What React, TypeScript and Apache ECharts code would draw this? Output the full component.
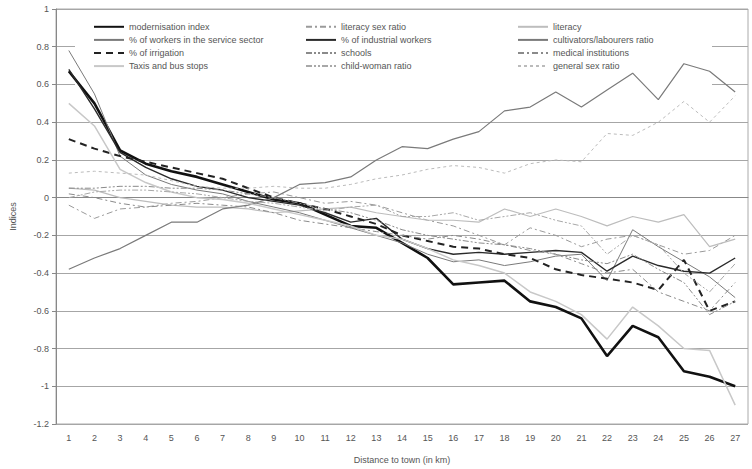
import React, { useEffect, useRef } from "react";
import * as echarts from "echarts";

const categories = Array.from({ length: 27 }, (_, i) => String(i + 1));

const modernisation = [0.67, 0.5, 0.25, 0.18, 0.14, 0.11, 0.07, 0.03, -0.01, -0.03, -0.09, -0.15, -0.16, -0.24, -0.32, -0.46, -0.45, -0.44, -0.55, -0.58, -0.64, -0.84, -0.68, -0.74, -0.92, -0.95, -1.0];
const literacySexRatio = [-0.04, -0.11, -0.06, -0.05, -0.03, -0.02, 0.0, 0.02, 0.03, 0.0, -0.03, -0.02, -0.04, -0.08, -0.12, -0.15, -0.2, -0.25, -0.16, -0.2, -0.26, -0.22, -0.2, -0.25, -0.3, -0.28, -0.2];
const literacy = [0.05, 0.04, 0.0, -0.02, -0.04, -0.05, -0.05, -0.06, -0.08, -0.07, -0.06, -0.05, -0.08, -0.1, -0.12, -0.12, -0.13, -0.06, -0.1, -0.06, -0.1, -0.15, -0.1, -0.13, -0.09, -0.26, -0.22];
const serviceWorkers = [0.78, 0.55, 0.22, 0.12, 0.07, 0.04, 0.02, -0.02, -0.05, -0.08, -0.12, -0.16, -0.2, -0.24, -0.3, -0.34, -0.33, -0.36, -0.34, -0.31, -0.3, -0.44, -0.17, -0.26, -0.34, -0.42, -0.53];
const industrialWorkers = [0.68, 0.47, 0.24, 0.16, 0.1, 0.06, 0.04, 0.0, -0.02, -0.04, -0.08, -0.13, -0.11, -0.22, -0.27, -0.3, -0.29, -0.3, -0.29, -0.28, -0.29, -0.39, -0.31, -0.36, -0.39, -0.4, -0.32];
const cultivatorsRatio = [-0.38, -0.32, -0.27, -0.2, -0.13, -0.13, -0.06, -0.04, 0.0, 0.07, 0.08, 0.11, 0.2, 0.27, 0.26, 0.31, 0.35, 0.46, 0.48, 0.56, 0.48, 0.57, 0.66, 0.52, 0.71, 0.67, 0.56];
const irrigation = [0.31, 0.26, 0.22, 0.19, 0.16, 0.13, 0.1, 0.05, 0.0, -0.03, -0.06, -0.1, -0.14, -0.2, -0.23, -0.26, -0.27, -0.3, -0.32, -0.38, -0.41, -0.43, -0.45, -0.49, -0.33, -0.6, -0.55];
const schools = [0.05, 0.05, 0.06, 0.06, 0.05, 0.05, 0.04, 0.02, 0.0, -0.03, -0.06, -0.08, -0.12, -0.17, -0.2, -0.22, -0.24, -0.25, -0.27, -0.3, -0.33, -0.35, -0.3, -0.38, -0.45, -0.62, -0.55];
const medical = [0.02, 0.0, -0.03, -0.05, -0.04, -0.03, -0.04, -0.05, -0.08, -0.12, -0.14, -0.16, -0.18, -0.2, -0.22, -0.2, -0.22, -0.25, -0.28, -0.3, -0.35, -0.4, -0.38, -0.5, -0.55, -0.6, -0.45];
const taxis = [0.5, 0.38, 0.15, 0.08, 0.03, 0.0, -0.01, -0.03, -0.06, -0.09, -0.12, -0.15, -0.2, -0.22, -0.27, -0.33, -0.36, -0.4, -0.5, -0.55, -0.62, -0.75, -0.58, -0.68, -0.8, -0.81, -1.1];
const childWoman = [0.0, 0.03, 0.04, 0.04, 0.03, 0.02, 0.0, -0.02, -0.03, -0.05, -0.07, -0.05, -0.04, -0.1, -0.1, -0.08, -0.12, -0.1, -0.08, -0.12, -0.15, -0.3, -0.2, -0.25, -0.4, -0.5, -0.35];
const generalSexRatio = [0.13, 0.14, 0.13, 0.12, 0.09, 0.06, 0.05, 0.05, 0.06, 0.05, 0.05, 0.07, 0.1, 0.12, 0.15, 0.17, 0.16, 0.13, 0.18, 0.2, 0.19, 0.34, 0.33, 0.4, 0.51, 0.4, 0.54];

const seriesDefs: [string, number[], string, number, any][] = [
  ["modernisation index", modernisation, "#111111", 2.6, "solid"],
  ["literacy sex ratio", literacySexRatio, "#9a9a9a", 1, [6, 3, 2, 3]],
  ["literacy", literacy, "#bdbdbd", 1.2, "solid"],
  ["% of workers in the service sector", serviceWorkers, "#7a7a7a", 1, "solid"],
  ["% of industrial workers", industrialWorkers, "#2a2a2a", 1.4, "solid"],
  ["cultivators/labourers ratio", cultivatorsRatio, "#7a7a7a", 1.2, "solid"],
  ["% of irrigation", irrigation, "#222222", 2, [7, 5]],
  ["schools", schools, "#8a8a8a", 1, [6, 2, 2, 2, 2, 2]],
  ["medical institutions", medical, "#8a8a8a", 1, [6, 3, 2, 3]],
  ["Taxis and bus stops", taxis, "#c8c8c8", 1.5, "solid"],
  ["child-woman ratio", childWoman, "#a8a8a8", 1, [6, 2, 2, 2, 2, 2]],
  ["general sex ratio", generalSexRatio, "#bbbbbb", 1, [3, 3]],
];

const font = "'Liberation Sans', Arial, sans-serif";

export default function App() {
  const ref = useRef<HTMLDivElement>(null);
  useEffect(() => {
    if (!ref.current) return;
    const chart = echarts.init(ref.current, undefined, { renderer: "svg" });
    const names = seriesDefs.map((d) => d[0]);
    const cols = [0, 1, 2].map((c) => names.filter((_, i) => i % 3 === c));
    const legendLefts = [88, 300, 512];
    chart.setOption({
      animation: false,
      textStyle: { fontFamily: font },
      grid: { left: 52, right: 4, top: 9, bottom: 38, show: true, borderColor: "#aaaaaa", borderWidth: 1 },
      graphic: [
        { type: "rect", z: 1, shape: { x: 75, y: 11, width: 637, height: 75 }, style: { fill: "#ffffff" } },
      ],
      legend: cols.map((data, c) => ({
        orient: "vertical",
        left: legendLefts[c],
        top: 17,
        itemWidth: 30,
        itemHeight: 12,
        itemGap: 3.5,
        data,
        itemStyle: { opacity: 0 },
        textStyle: { fontSize: 9, color: "#555", fontFamily: font },
        z: 5,
      })),
      xAxis: {
        type: "category",
        data: categories,
        boundaryGap: true,
        name: "Distance to town (in km)",
        nameLocation: "middle",
        nameGap: 31,
        nameTextStyle: { fontSize: 9, color: "#555", fontFamily: font },
        axisLine: { lineStyle: { color: "#888" } },
        axisTick: { lineStyle: { color: "#888" }, length: 4 },
        axisLabel: { fontSize: 9, color: "#555", margin: 9, interval: 0 },
      },
      yAxis: {
        type: "value",
        min: -1.2,
        max: 1,
        interval: 0.2,
        name: "Indices",
        nameLocation: "middle",
        nameGap: 39,
        nameTextStyle: { fontSize: 9, color: "#555", fontFamily: font },
        axisLine: { show: true, lineStyle: { color: "#888" } },
        axisTick: { show: true, lineStyle: { color: "#888" }, length: 4 },
        axisLabel: {
          fontSize: 9,
          color: "#555",
          margin: 7,
          formatter: (v: number) => String(Math.round(v * 10) / 10),
        },
        splitLine: { lineStyle: { color: "#a6a6a6", width: 1.2 } },
      },
      series: seriesDefs.map(([name, data, color, width, type]) => ({
        name,
        type: "line",
        data,
        symbol: "none",
        z: 2,
        lineStyle: { color, width, type },
        itemStyle: { color },
      })),
    });
    return () => chart.dispose();
  }, []);
  return <div ref={ref} style={{ width: 752, height: 469, position: "absolute", left: 0, top: 0 }} />;
}
